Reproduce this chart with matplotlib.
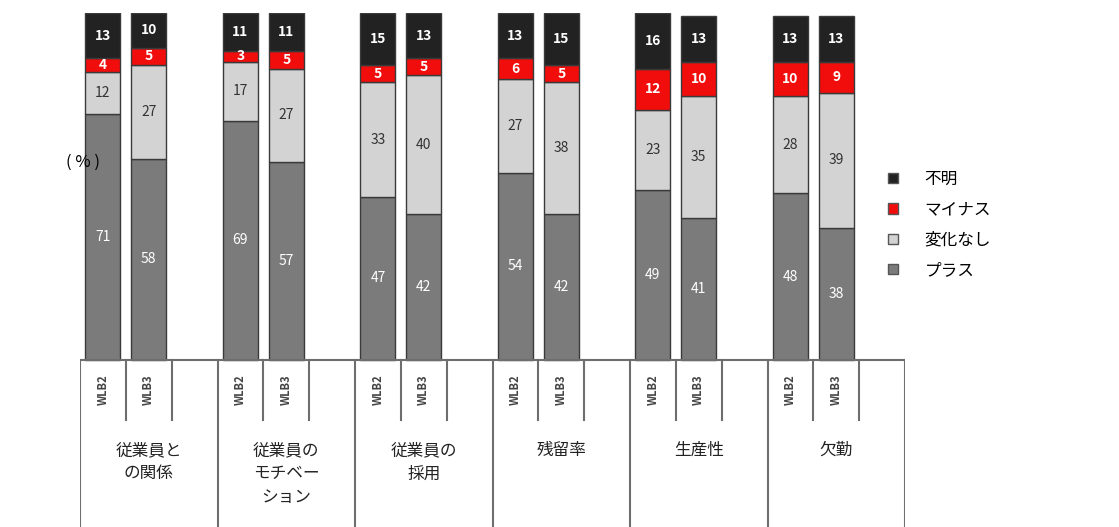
import numpy as np
import matplotlib
matplotlib.use("Agg")
import matplotlib.pyplot as plt
from matplotlib.patches import Patch

plt.rcParams['font.family'] = ['Noto Sans CJK JP', 'DejaVu Sans']

# Survey results (%), two survey waves per category
categories = ['従業員と\nの関係', '従業員の\nモチベー\nション', '従業員の\n採用', '残留率', '生産性', '欠勤']
waves = ['WLB2', 'WLB3']
plus = [[71, 58], [69, 57], [47, 42], [54, 42], [49, 41], [48, 38]]
no_change = [[12, 27], [17, 27], [33, 40], [27, 38], [23, 35], [28, 39]]
minus = [[4, 5], [3, 5], [5, 5], [6, 5], [12, 10], [10, 9]]
unknown = [[13, 10], [11, 11], [15, 13], [13, 15], [16, 13], [13, 13]]

series = [
    ('プラス', plus, '#7b7b7b', 'white', 'normal'),
    ('変化なし', no_change, '#d3d3d3', '#333333', 'normal'),
    ('マイナス', minus, '#f20d0d', 'white', 'bold'),
    ('不明', unknown, '#222222', 'white', 'bold'),
]

fig = plt.figure(figsize=(11.19, 5.27), dpi=100)
W, H = 1119, 527
# axes: x 80..905 px, y 13..527 px; value 0 sits at y=360 px
px_per_unit = (360 - 13) / 100
ymin = -(527 - 360) / px_per_unit
ax = fig.add_axes([80 / W, 0, 825 / W, (527 - 13) / H])
ax.set_xlim(0, 6)
ax.set_ylim(ymin, 100)
ax.axis('off')

n = len(categories)
offsets = [1 / 6, 0.5]
bar_w = 0.255
line_col = '#6e6e6e'

for j, off in enumerate(offsets):
    x = np.arange(n) + off
    bottom = np.zeros(n)
    for name, vals, col, tcol, weight in series:
        v = np.array([vals[i][j] for i in range(n)], dtype=float)
        ax.bar(x, v, bottom=bottom, width=bar_w, color=col,
               edgecolor='#3a3a3a', linewidth=1.0, zorder=2)
        for xi, b, vi in zip(x, bottom, v):
            ax.text(xi, b + vi / 2, f'{int(vi)}', ha='center', va='center',
                    color=tcol, fontsize=10, fontweight=weight, zorder=3)
        bottom += v

# table under the bars
ax.plot([0, 6], [0, 0], color=line_col, lw=1.5, zorder=4)
for k in range(n + 1):
    ax.plot([k, k], [0, ymin], color=line_col, lw=1.5, zorder=1)
for k in range(n):
    for s in (1 / 3, 2 / 3):
        ax.plot([k + s, k + s], [0, -17.3], color=line_col, lw=1.5, zorder=1)
    for j, off in enumerate(offsets):
        ax.text(k + off, -8.6, waves[j], rotation=90, ha='center', va='center',
                fontsize=8, fontweight='bold', color='#444444')
    ax.text(k + 0.5, -23.6, categories[k], ha='center', va='top',
            fontsize=12, color='#222222', linespacing=1.5)

fig.text(83 / W, 1 - 162 / H, '( % )', ha='center', va='center', fontsize=12)

handles = [Patch(facecolor=col, edgecolor='#555555', label=name)
           for name, vals, col, tcol, weight in series[::-1]]
fig.legend(handles=handles, loc='upper left', bbox_to_anchor=(873 / W, 1 - 156 / H),
           frameon=False, fontsize=12, handlelength=0.6, handleheight=0.6,
           handletextpad=1.6, labelspacing=0.8)

fig.savefig('out.png', dpi=100)
